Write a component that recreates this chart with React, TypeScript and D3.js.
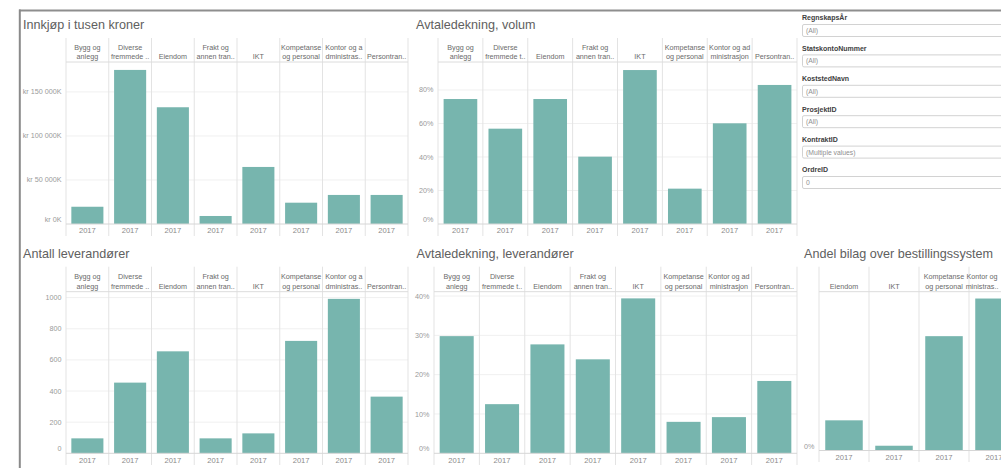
import * as d3 from "d3";

const categories = [
  "Bygg og anlegg",
  "Diverse fremmede tjenester",
  "Eiendom",
  "Frakt og annen transport",
  "IKT",
  "Kompetanse og personal",
  "Kontor og administrasjon",
  "Persontransport",
];

// header labels as Tableau wrapped / truncated them
const headersNarrow = [
  ["Bygg og", "anlegg"],
  ["Diverse", "fremmede .."],
  ["Eiendom"],
  ["Frakt og", "annen tran.."],
  ["IKT"],
  ["Kompetanse", "og personal"],
  ["Kontor og a", "dministras.."],
  ["Persontran.."],
];
const headersWide = [
  ["Bygg og", "anlegg"],
  ["Diverse", "fremmede t.."],
  ["Eiendom"],
  ["Frakt og", "annen tran.."],
  ["IKT"],
  ["Kompetanse", "og personal"],
  ["Kontor og ad", "ministrasjon"],
  ["Persontran.."],
];
const yearLabel = "2017";

const innkjop = [19600, 175000, 132600, 9100, 64800, 24200, 33000, 33000];
const avtaleVolum = [0.746, 0.569, 0.746, 0.402, 0.919, 0.211, 0.601, 0.83];
const antallLev = [96, 454, 655, 96, 128, 722, 992, 364];
const avtaleLev = [0.298, 0.125, 0.277, 0.239, 0.394, 0.08, 0.092, 0.184];

const bilagCategories = ["Eiendom", "IKT", "Kompetanse og personal", "Kontor og administrasjon"];
const bilagHeaders = [["Eiendom"], ["IKT"], ["Kompetanse", "og personal"], ["Kontor og", "ministras.."]];
const bilagAndel = [0.19, 0.03, 0.72, 0.957];

const filterNames = ["RegnskapsÅr", "StatskontoNummer", "KoststedNavn", "ProsjektID", "KontraktID", "OrdreID"];
const filterValues = ["(All)", "(All)", "(All)", "(All)", "(Multiple values)", "0"];

const innkjopTicks = [0, 50000, 100000, 150000];
const volumTicks = [0, 0.2, 0.4, 0.6, 0.8];
const antallTicks = [0, 200, 400, 600, 800, 1000];
const levTicks = [0, 0.1, 0.2, 0.3, 0.4];
const bilagTicks = [0];

const BAR = "#77b5ae";
const FONT = "'Liberation Sans', Arial, sans-serif";

// values are already in thousands: 150000 -> "kr 150 000K"
const fmtKr = (v: number) => "kr " + d3.format(",")(v).replace(/,/g, " ") + "K";
const fmtPct = d3.format(".0%");
const fmtNum = d3.format("d");

interface PanelProps {
  title: string;
  titleX: number;
  titleY: number;
  left: number;
  right: number;
  headerTop: number;
  headerBottom: number;
  baseline: number;
  yearBottom: number;
  cats: string[];
  headers: string[][];
  values: number[];
  domainMax: number;
  ticks: number[];
  format: (v: number) => string;
}

function Panel(p: PanelProps) {
  const x = d3.scaleBand<string>().domain(p.cats).range([p.left, p.right]).padding(0);
  const y = d3.scaleLinear().domain([0, p.domainMax]).range([p.baseline, p.headerBottom]);
  const bw = x.bandwidth();
  const barW = bw * 0.75;
  const edges = p.cats.map((c) => x(c)!).concat([p.right]);

  return (
    <g>
      <text x={p.titleX} y={p.titleY} fontSize={12.6} fill="#606060" fontFamily={FONT}>
        {p.title}
      </text>
      {/* gridlines */}
      {p.ticks.filter((t) => t > 0).map((t) => (
        <line key={"g" + t} x1={p.left} x2={p.right} y1={y(t)} y2={y(t)} stroke="#f0f0f0" strokeWidth={1} />
      ))}
      {/* column dividers */}
      {edges.map((e, i) => (
        <line key={"d" + i} x1={e} x2={e} y1={p.headerTop} y2={p.yearBottom} stroke="#e3e3e3" strokeWidth={1} />
      ))}
      <line x1={p.left} x2={p.right} y1={p.headerBottom} y2={p.headerBottom} stroke="#dcdcdc" />
      {/* bars */}
      {p.cats.map((c, i) => (
        <rect
          key={c}
          x={x(c)! + (bw - barW) / 2}
          y={y(p.values[i])}
          width={barW}
          height={p.baseline - y(p.values[i])}
          fill={BAR}
        />
      ))}
      <line x1={p.left} x2={p.right} y1={p.baseline} y2={p.baseline} stroke="#d6d6d6" />
      {/* headers */}
      {p.cats.map((c, i) => {
        const lines = p.headers[i];
        const cx = Math.min(x(c)! + bw / 2, 1001 - 19);
        return (
          <text key={"h" + c} x={cx} textAnchor="middle" fontSize={7.2} fill="#6a6a6a" fontFamily={FONT}>
            {lines.map((l, j) => (
              <tspan key={j} x={cx} y={p.headerBottom - 3 - (lines.length - 1 - j) * 9.3}>
                {l}
              </tspan>
            ))}
          </text>
        );
      })}
      {/* year row */}
      {p.cats.map((c) => (
        <text
          key={"y" + c}
          x={x(c)! + bw / 2}
          y={p.baseline + 9.4}
          textAnchor="middle"
          fontSize={7.6}
          fill="#8a8a8a"
          fontFamily={FONT}
        >
          {yearLabel}
        </text>
      ))}
      {/* y axis labels */}
      {p.ticks.map((t) => {
        const cy = Math.min(p.baseline - 4.5, Math.max(p.headerBottom + 4, y(t)));
        return (
          <text
            key={"t" + t}
            x={p.left - 4.5}
            y={cy}
            dy="0.35em"
            textAnchor="end"
            fontSize={7.2}
            fill="#9a9a9a"
            fontFamily={FONT}
          >
            {p.format(t)}
          </text>
        );
      })}
    </g>
  );
}

function Filters() {
  return (
    <g fontFamily={FONT}>
      {filterNames.map((name, i) => {
        const top = 24 + i * 30.4;
        return (
          <g key={name}>
            <text x={802} y={top - 3.6} fontSize={7} fontWeight={700} fill="#404040">
              {name}
            </text>
            <rect x={802.5} y={top + 0.5} width={220} height={12} rx={1.5} fill="#fff" stroke="#d2d2d2" />
            <text x={806} y={top + 9} fontSize={6.8} fill="#909090">
              {filterValues[i]}
            </text>
          </g>
        );
      })}
    </g>
  );
}

export default function App() {
  return (
    <svg
      width={1001}
      height={468}
      style={{ position: "absolute", left: 0, top: 0, background: "#fff" }}
    >
      <rect width={1001} height={468} fill="#fff" />
      <Panel
        title="Innkjøp i tusen kroner"
        titleX={23}
        titleY={29.3}
        left={66}
        right={408}
        headerTop={38}
        headerBottom={62}
        baseline={224}
        yearBottom={236}
        cats={categories}
        headers={headersNarrow}
        values={innkjop}
        domainMax={184000}
        ticks={innkjopTicks}
        format={fmtKr}
      />
      <Panel
        title="Avtaledekning, volum"
        titleX={416}
        titleY={29.3}
        left={438}
        right={797}
        headerTop={38}
        headerBottom={62}
        baseline={224}
        yearBottom={236}
        cats={categories}
        headers={headersWide}
        values={avtaleVolum}
        domainMax={0.967}
        ticks={volumTicks}
        format={fmtPct}
      />
      <Panel
        title="Antall leverandører"
        titleX={23}
        titleY={257.7}
        left={66}
        right={408}
        headerTop={266.7}
        headerBottom={291.7}
        baseline={453.3}
        yearBottom={465}
        cats={categories}
        headers={headersNarrow}
        values={antallLev}
        domainMax={1038}
        ticks={antallTicks}
        format={fmtNum}
      />
      <Panel
        title="Avtaledekning, leverandører"
        titleX={416.5}
        titleY={257.7}
        left={434}
        right={797}
        headerTop={266.7}
        headerBottom={291.7}
        baseline={453.3}
        yearBottom={465}
        cats={categories}
        headers={headersWide}
        values={avtaleLev}
        domainMax={0.411}
        ticks={levTicks}
        format={fmtPct}
      />
      <Panel
        title="Andel bilag over bestillingssystem"
        titleX={804}
        titleY={257.7}
        left={819}
        right={1019}
        headerTop={266.7}
        headerBottom={291.7}
        baseline={450.5}
        yearBottom={462}
        cats={bilagCategories}
        headers={bilagHeaders}
        values={bilagAndel}
        domainMax={1}
        ticks={bilagTicks}
        format={fmtPct}
      />
      <Filters />
      {/* dashboard frame */}
      <line x1={19} x2={1001} y1={10.5} y2={10.5} stroke="#8e8e8e" strokeWidth={2} />
      <line x1={19.8} x2={19.8} y1={9.5} y2={468} stroke="#8a8a8a" strokeWidth={2} />
    </svg>
  );
}
